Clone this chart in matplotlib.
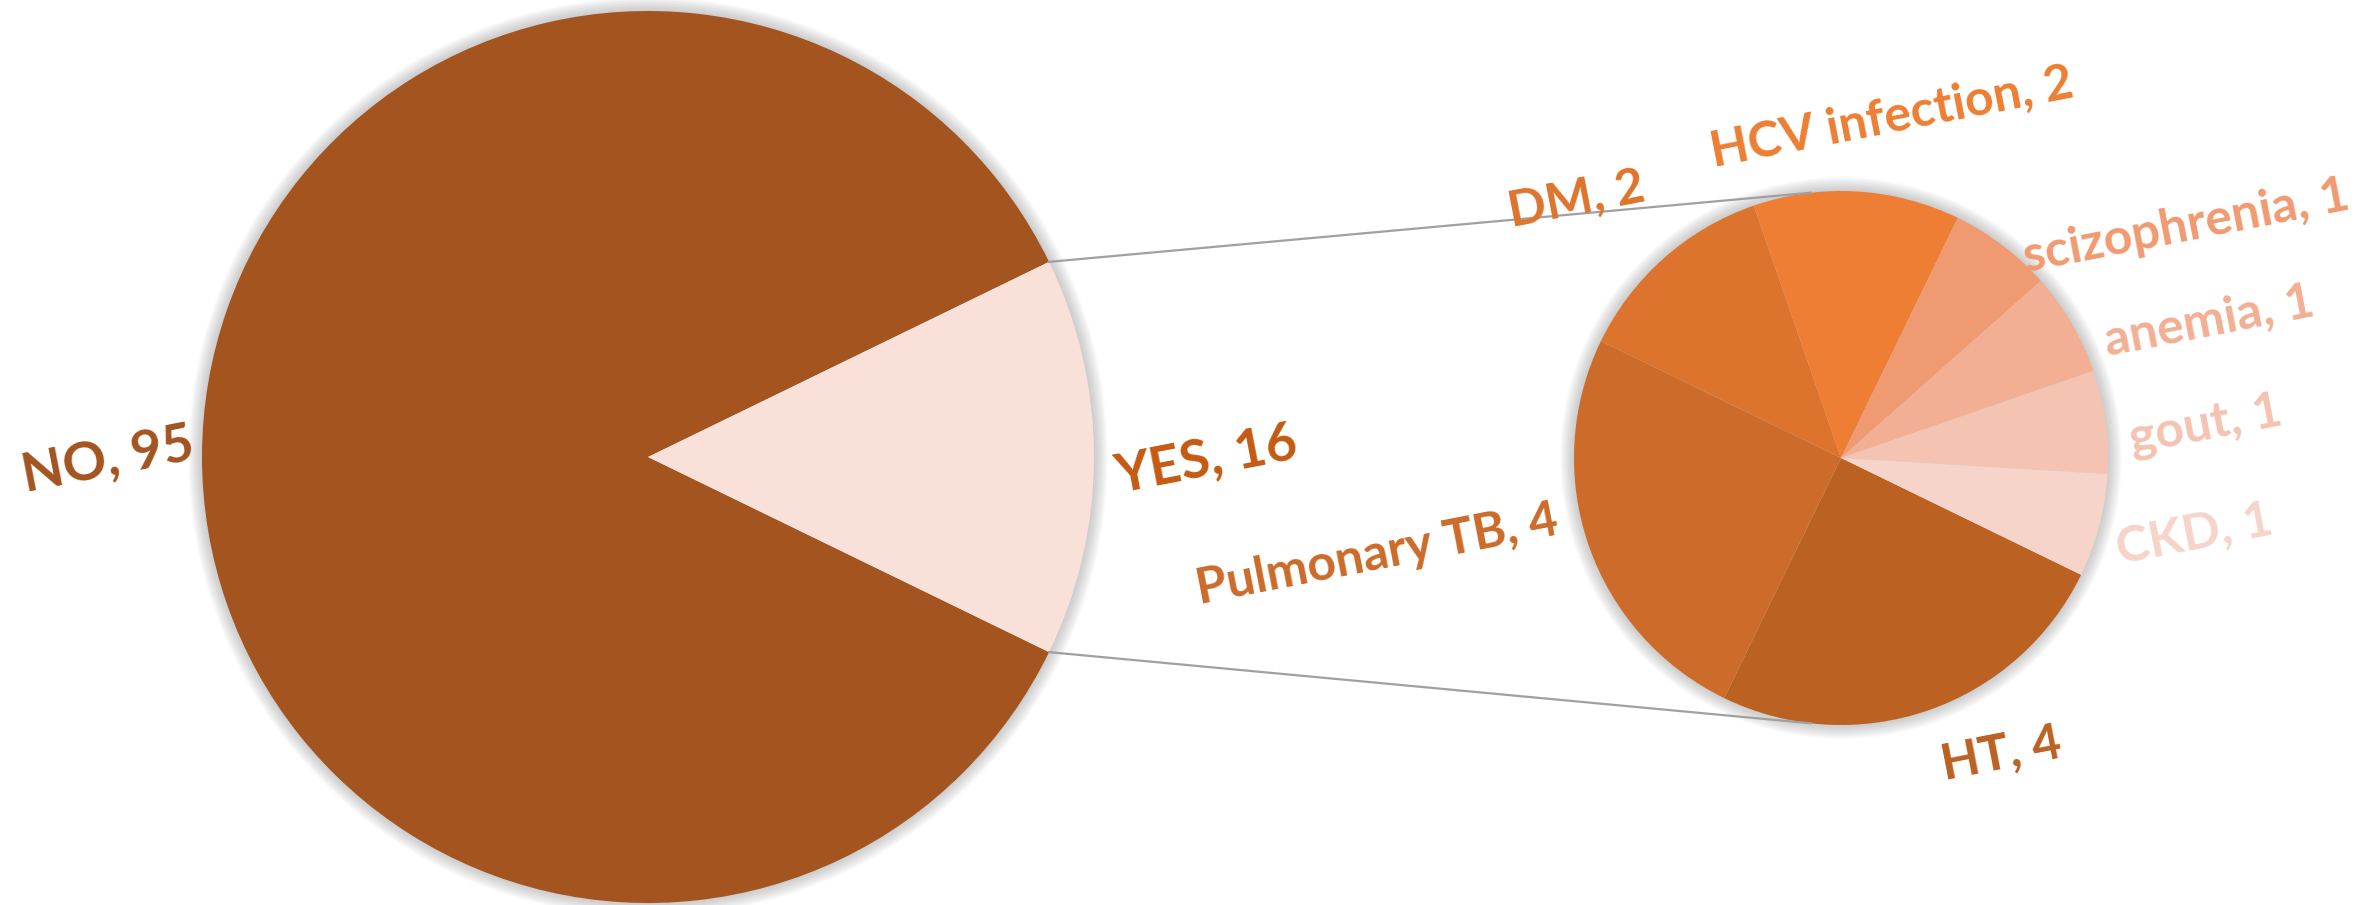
import numpy as np
import matplotlib
matplotlib.use("Agg")
import matplotlib.pyplot as plt
from matplotlib.patches import Circle

# ---- data ----
main_labels = ["NO", "YES"]
main_values = [95, 16]
main_colors = ["#A3541F", "#F9E1DA"]

sub_labels = ["HT", "Pulmonary TB", "DM", "HCV infection", "scizophrenia", "anemia", "gout", "CKD"]
sub_values = [4, 4, 2, 2, 1, 1, 1, 1]
sub_colors = ["#BB6122", "#CC6B2A", "#DD742D", "#ED7E33", "#F09A71", "#F2AF94", "#F4C3B1", "#F6D4C9"]

W, H = 2364, 905
fig = plt.figure(figsize=(W / 100, H / 100), dpi=100)
ax = fig.add_axes([0, 0, 1, 1])
ax.set_xlim(0, W)
ax.set_ylim(0, H)
ax.set_aspect("equal")
ax.axis("off")

FONT = "Lato"

c1 = (648, H - 457)
r1 = 446
c2 = (1841, H - 458)
r2 = 267


def shadow(center, r):
    for i in range(10):
        ax.add_patch(Circle(center, r + 1 + i * 1.4, color="#7f7f7f", alpha=0.045, lw=0, zorder=0))


shadow(c1, r1)
shadow(c2, r2)

half = 180.0 * main_values[1] / sum(main_values)

# main pie: NO then YES, YES centred on 0 deg
ax.pie(main_values, colors=main_colors, center=c1, radius=r1, startangle=half,
       counterclock=True, wedgeprops=dict(linewidth=0), frame=True)

# sub pie: clockwise starting at -half
ax.pie(sub_values, colors=sub_colors, center=c2, radius=r2, startangle=-half,
       counterclock=False, wedgeprops=dict(linewidth=0), frame=True)

ax.set_xlim(0, W)
ax.set_ylim(0, H)
ax.axis("off")

# connector lines
for s in (1, -1):
    a1 = np.deg2rad(s * half)
    a2 = np.deg2rad(s * 96.5)
    p1 = (c1[0] + r1 * np.cos(a1), c1[1] + r1 * np.sin(a1))
    p2 = (c2[0] + r2 * np.cos(a2), c2[1] + r2 * np.sin(a2))
    ax.plot([p1[0], p2[0]], [p1[1], p2[1]], color="#A0A0A0", lw=1.6, zorder=5)

# labels
main_pos = [(108, 460), (1206, 460)]
main_text_colors = ["#A3541F", "#C55A11"]
for lab, v, (x, y), col in zip(main_labels, main_values, main_pos, main_text_colors):
    ax.text(x, H - y, f"{lab}, {v}", color=col, fontsize=39, fontweight="bold",
            family=FONT, rotation=11, ha="center", va="center", rotation_mode="anchor", zorder=6)

sub_pos = [(2001, 754), (1377, 555), (1576, 200), (1892, 118), (2186, 226),
           (2209, 321), (2206, 425), (2194, 535)]
for lab, v, (x, y), col in zip(sub_labels, sub_values, sub_pos, sub_colors):
    ax.text(x, H - y, f"{lab}, {v}", color=col, fontsize=36, fontweight="bold",
            family=FONT, rotation=11, ha="center", va="center", rotation_mode="anchor", zorder=6)

fig.savefig("out.png", dpi=100, facecolor="white")
